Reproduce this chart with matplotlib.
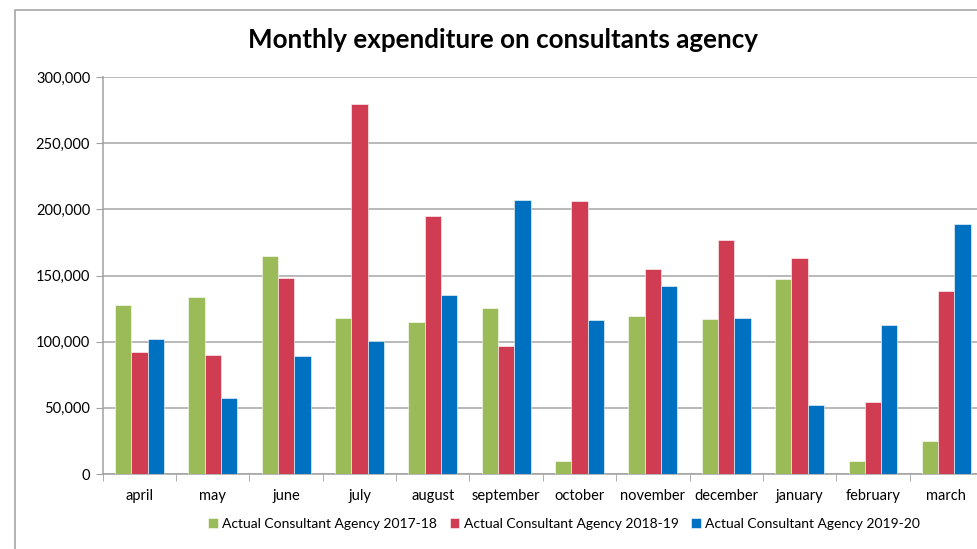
import matplotlib
matplotlib.use("Agg")
import matplotlib.pyplot as plt
import numpy as np
from matplotlib.patches import Rectangle
from matplotlib.ticker import FuncFormatter

months = ["april", "may", "june", "july", "august", "september", "october",
          "november", "december", "january", "february", "march"]
spend_1718 = [128000, 133800, 164700, 117900, 115100, 125200, 9600,
              119600, 117400, 147100, 9600, 24900]
spend_1819 = [92200, 89700, 148100, 279800, 195000, 96500, 206300,
              154700, 176800, 163200, 54700, 138500]
spend_1920 = [101800, 57400, 88900, 100500, 135300, 206800, 116100,
              141800, 118100, 52100, 112900, 188900]
series_names = ["Actual Consultant Agency 2017-18",
                "Actual Consultant Agency 2018-19",
                "Actual Consultant Agency 2019-20"]
colors = ["#9BBB59", "#D03D52", "#0070C0"]

plt.rcParams['font.family'] = ['Lato', 'DejaVu Sans']

W, H = 978, 549
fig = plt.figure(figsize=(W / 100, H / 100), dpi=100)

# outer chart frame (only left and top edges fall inside the image)
fig.patches.append(Rectangle((15 / W, -0.1), 1.2, 1 - 10 / H + 0.1,
                             transform=fig.transFigure, fill=False,
                             edgecolor="#A6A6A6", linewidth=1.2))

ax = fig.add_axes([102.7 / W, 1 - 474 / H, 880.3 / W, 397 / H])

x = np.arange(len(months))
bw = 0.222
for i, (vals, name, c) in enumerate(zip([spend_1718, spend_1819, spend_1920],
                                         series_names, colors)):
    ax.bar(x + (i - 1) * bw, vals, width=bw, color=c, label=name,
           edgecolor="white", linewidth=0.4, zorder=3)

ax.set_xlim(-0.5, len(months) - 0.5)
ax.set_ylim(0, 300000)
ax.set_yticks(np.arange(0, 300001, 50000))
ax.yaxis.set_major_formatter(FuncFormatter(lambda v, p: f"{int(v):,}"))
ax.set_xticks(x)
ax.set_xticklabels(months)
ax.set_xticks(np.arange(-0.5, len(months), 1), minor=True)

ax.tick_params(axis="x", which="major", length=0, pad=11, labelsize=10.5,
               colors="black")
ax.tick_params(axis="x", which="minor", length=5, color="#A0A0A0",
               direction="out")
ax.tick_params(axis="y", length=5, color="#A0A0A0", labelsize=10.5, pad=4)

ax.grid(axis="y", color="#A6A6A6", linewidth=1.1, zorder=0)
for side in ["top", "right"]:
    ax.spines[side].set_visible(False)
for side in ["left", "bottom"]:
    ax.spines[side].set_color("#A0A0A0")
    ax.spines[side].set_linewidth(1.1)

fig.text(503 / W, 1 - 40 / H, "Monthly expenditure on consultants agency",
         ha="center", va="center", fontsize=18.7, fontweight="bold")

fig.legend(loc="center", bbox_to_anchor=(564 / W, 1 - 524 / H), ncol=3,
           frameon=False, fontsize=10, handlelength=0.7, handleheight=0.7,
           handletextpad=0.3, columnspacing=0.9)

fig.savefig("out.png", dpi=100)
